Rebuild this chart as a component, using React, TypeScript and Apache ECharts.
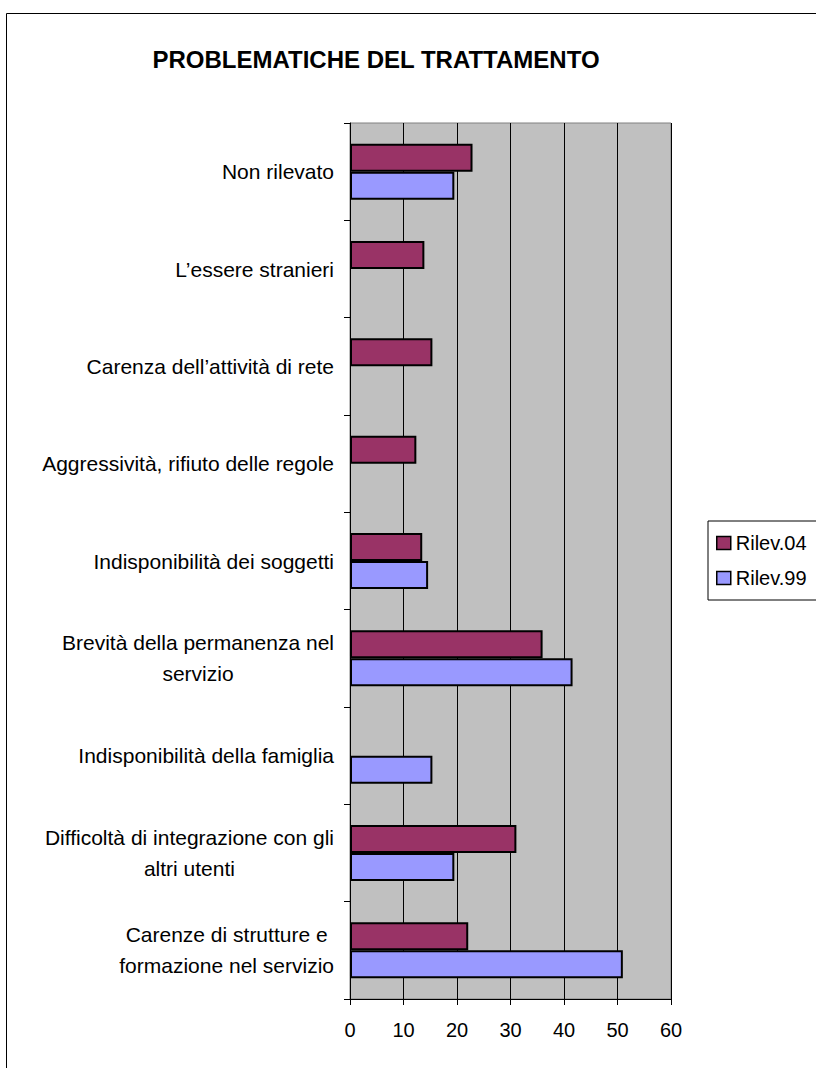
import React, { useEffect, useRef } from "react";
import * as echarts from "echarts";

const titleText = "PROBLEMATICHE DEL TRATTAMENTO";
// categories listed top to bottom
const categories = [
  "Non rilevato",
  "L’essere stranieri",
  "Carenza dell’attività di rete",
  "Aggressività, rifiuto delle regole",
  "Indisponibilità dei soggetti",
  "Brevità della permanenza nel\nservizio",
  "Indisponibilità della famiglia",
  "Difficoltà di integrazione con gli\naltri utenti",
  "Carenze di strutture e\nformazione nel servizio",
];
const seriesNames = ["Rilev.04", "Rilev.99"];
const rilev04 = [22.9, 13.9, 15.4, 12.4, 13.5, 36.0, null, 31.1, 22.1];
const rilev99 = [19.5, null, null, null, 14.6, 41.6, 15.4, 19.5, 51.0];
const xTicks = { min: 0, max: 60, interval: 10 };

const FONT = "Arial, 'Liberation Sans', sans-serif";

export default function App() {
  const ref = useRef<HTMLDivElement>(null);
  useEffect(() => {
    document.body.style.margin = "0";
    const chart = echarts.init(ref.current!, null, { renderer: "svg" });
    chart.setOption({
      animation: false,
      backgroundColor: "#ffffff",
      textStyle: { fontFamily: FONT },
      graphic: [
        {
          type: "rect",
          shape: { x: 6.5, y: 13.5, width: 830, height: 1080 },
          style: { fill: "none", stroke: "#000", lineWidth: 1 },
          silent: true,
          z: 0,
        },
        {
          type: "text",
          x: 376,
          y: 59,
          style: {
            text: titleText,
            font: `bold 24px ${FONT}`,
            fill: "#000",
            align: "center",
            verticalAlign: "middle",
          },
        },
      ],
      legend: {
        orient: "vertical",
        left: 708,
        top: 521,
        data: seriesNames,
        itemWidth: 14,
        itemHeight: 13,
        itemGap: 15,
        padding: [12, 40, 12, 8],
        borderColor: "#000",
        borderWidth: 1,
        icon: "rect",
        textStyle: { fontSize: 20, color: "#000", fontFamily: FONT, padding: [0, 0, 0, 0] },
        itemStyle: { borderColor: "#000", borderWidth: 1.5 },
      },
      grid: {
        left: 350,
        right: 145,
        top: 123,
        bottom: 69,
        show: true,
        backgroundColor: "#C0C0C0",
        borderColor: "#808080",
        borderWidth: 1,
        containLabel: false,
      },
      xAxis: {
        type: "value",
        min: xTicks.min,
        max: xTicks.max,
        interval: xTicks.interval,
        axisLine: { show: true, lineStyle: { color: "#000", width: 1 } },
        axisTick: { show: true, length: 6, lineStyle: { color: "#000" } },
        splitLine: { show: true, lineStyle: { color: "#000", width: 1 } },
        axisLabel: { fontSize: 20, color: "#000", margin: 21, fontFamily: FONT },
      },
      yAxis: {
        type: "category",
        data: categories,
        inverse: true,
        axisLine: { show: true, lineStyle: { color: "#000", width: 1 } },
        axisTick: { show: true, length: 6, inside: false, lineStyle: { color: "#000" } },
        splitLine: { show: false },
        axisLabel: {
          color: "#000",
          fontSize: 21,
          margin: 16,
          fontFamily: FONT,
          formatter: (v: string) =>
            v
              .split("\n")
              .map((l) => `{c|${l}}`)
              .join("\n"),
          rich: {
            c: { align: "center", fontSize: 21, lineHeight: 31, color: "#000", fontFamily: FONT },
          },
        },
      },
      series: [
        {
          name: seriesNames[0],
          type: "bar",
          data: rilev04,
          barWidth: 28,
          barGap: "0%",
          itemStyle: { color: "#993366", borderColor: "#000", borderWidth: 2 },
        },
        {
          name: seriesNames[1],
          type: "bar",
          data: rilev99,
          barWidth: 28,
          barGap: "0%",
          itemStyle: { color: "#9999FF", borderColor: "#000", borderWidth: 2 },
        },
      ],
    });
    return () => chart.dispose();
  }, []);
  return <div ref={ref} style={{ width: 816, height: 1068 }} />;
}
